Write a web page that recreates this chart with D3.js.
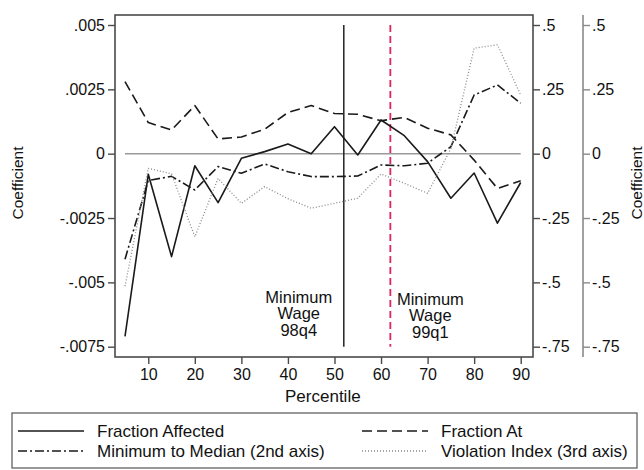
<!DOCTYPE html>
<html>
<head>
<meta charset="utf-8">
<script src="https://cdn.jsdelivr.net/npm/d3@7"></script>
<style>
  html, body { margin: 0; padding: 0; background: #fff; }
  svg { display: block; font-family: "Liberation Sans", Arial, sans-serif; }
</style>
</head>
<body>
<svg id="chart" width="644" height="470"></svg>
<script>
// Wage-distribution coefficients by percentile
const percentiles = [5, 10, 15, 20, 25, 30, 35, 40, 45, 50, 55, 60, 65, 70, 75, 80, 85, 90];
const fractionAffected = [-0.0071, -0.0008, -0.0040, -0.00047, -0.0019, -0.00018, 0.00008, 0.00038, 0.0,
  0.00105, -0.00005, 0.00131, 0.0007, -0.00031, -0.00173, -0.00075, -0.0027, -0.00112];
const fractionAt = [0.0028, 0.00121, 0.00092, 0.00187, 0.00057, 0.00065, 0.00095, 0.0016, 0.00187,
  0.00156, 0.00153, 0.00128, 0.00141, 0.00099, 0.00073, -0.00025, -0.00135, -0.00105];
// second axis
const minToMedian = [-0.41, -0.104, -0.088, -0.141, -0.05, -0.076, -0.04, -0.07, -0.089,
  -0.089, -0.087, -0.044, -0.047, -0.037, 0.027, 0.228, 0.267, 0.196];
// third axis
const violationIndex = [-0.515, -0.057, -0.078, -0.323, -0.096, -0.193, -0.128, -0.175, -0.212,
  -0.193, -0.173, -0.079, -0.115, -0.154, 0.02, 0.41, 0.423, 0.228];

const xTicks = [10, 20, 30, 40, 50, 60, 70, 80, 90];
const yTicks = [-0.0075, -0.005, -0.0025, 0, 0.0025, 0.005];
const y2Ticks = [-0.75, -0.5, -0.25, 0, 0.25, 0.5];
const events = [
  { at: 52, lines: ["Minimum", "Wage", "98q4"] },
  { at: 62, lines: ["Minimum", "Wage", "99q1"] }
];
const legendItems = ["Fraction Affected", "Fraction At", "Minimum to Median (2nd axis)", "Violation Index (3rd axis)"];

const svg = d3.select("#chart");
const box = { left: 115, right: 533, top: 15, bottom: 357 };
const axis3X = 583;

const x = d3.scaleLinear().domain([5, 90]).range([125, 520.7]);
const y = d3.scaleLinear().domain([-0.0075, 0.005]).range([346.7, 25]);
const y2 = d3.scaleLinear().domain([-0.75, 0.5]).range([346.7, 25]);
const y3 = d3.scaleLinear().domain([-0.75, 0.5]).range([346.7, 25]);

// Stata-style numbers: drop the leading zero
const fmt = v => v === 0 ? "0" : String(v).replace("0.", ".");

const fontTick = "16px";

// plot region outline
svg.append("rect")
  .attr("x", box.left).attr("y", box.top)
  .attr("width", box.right - box.left).attr("height", box.bottom - box.top)
  .attr("fill", "none").attr("stroke", "#4a4a4a").attr("stroke-width", 1.6);

// left axis
const gL = svg.append("g").attr("transform", `translate(${box.left},0)`)
  .call(d3.axisLeft(y).tickValues(yTicks).tickFormat(fmt).tickSize(7).tickPadding(3));
// second axis on the box's right edge
const gR2 = svg.append("g").attr("transform", `translate(${box.right},0)`)
  .call(d3.axisRight(y2).tickValues(y2Ticks).tickFormat(fmt).tickSize(7).tickPadding(2));
// third axis
const gR3 = svg.append("g").attr("transform", `translate(${axis3X},0)`)
  .call(d3.axisRight(y3).tickValues(y2Ticks).tickFormat(fmt).tickSize(7).tickPadding(2));
// bottom axis
const gB = svg.append("g").attr("transform", `translate(0,${box.bottom})`)
  .call(d3.axisBottom(x).tickValues(xTicks).tickFormat(d3.format("d")).tickSize(7).tickPadding(5));

[gL, gR2, gB].forEach(g => {
  g.select(".domain").remove();
  g.selectAll(".tick line").attr("stroke", "#4a4a4a").attr("stroke-width", 1.4);
  g.selectAll(".tick text").attr("fill", "#111").style("font-size", fontTick).style("font-family", "Liberation Sans, Arial, sans-serif");
});
gR3.select(".domain").remove();
gR3.selectAll(".tick line").attr("stroke", "#8a8a8a").attr("stroke-width", 1.4);
gR3.selectAll(".tick text").attr("fill", "#111").style("font-size", fontTick).style("font-family", "Liberation Sans, Arial, sans-serif");
svg.append("line")
  .attr("x1", axis3X).attr("x2", axis3X).attr("y1", box.top).attr("y2", box.bottom)
  .attr("stroke", "#8a8a8a").attr("stroke-width", 1.6);

// axis titles
svg.append("text")
  .attr("transform", `translate(23,183) rotate(-90)`)
  .attr("text-anchor", "middle").style("font-size", "15.5px").attr("fill", "#111")
  .text("Coefficient");
svg.append("text")
  .attr("transform", `translate(642,183) rotate(-90)`)
  .attr("text-anchor", "middle").style("font-size", "15.5px").attr("fill", "#111")
  .text("Coefficient");
svg.append("text")
  .attr("x", (x(5) + x(90)) / 2).attr("y", 402)
  .attr("text-anchor", "middle").style("font-size", "17px").attr("fill", "#111")
  .text("Percentile");

// zero reference line
svg.append("line")
  .attr("x1", x(5)).attr("x2", x(90)).attr("y1", y(0)).attr("y2", y(0))
  .attr("stroke", "#9a9a9a").attr("stroke-width", 1.6);

// event markers
svg.append("line")
  .attr("x1", x(events[0].at)).attr("x2", x(events[0].at))
  .attr("y1", y(0.005)).attr("y2", y(-0.0075))
  .attr("stroke", "#222").attr("stroke-width", 1.5);
svg.append("line")
  .attr("x1", x(events[1].at)).attr("x2", x(events[1].at))
  .attr("y1", y(0.005)).attr("y2", y(-0.0075))
  .attr("stroke", "#e0245e").attr("stroke-width", 1.8).attr("stroke-dasharray", "7,4");

const labelCx = [x(events[0].at) - 45, x(events[1].at) + 40];
const labelTop = [296.5, 298.5];
events.forEach((ev, i) => {
  const t = svg.append("text").attr("text-anchor", "middle")
    .style("font-size", "16.5px").attr("fill", "#111");
  ev.lines.forEach((s, k) => {
    t.append("tspan").attr("x", labelCx[i]).attr("y", labelTop[i] + 6 + k * 16.7).text(s);
  });
});

// series
const line = (scale, vals) => d3.line()
  .x((d, i) => x(percentiles[i]))
  .y(d => scale(d))(vals);

const styles = [
  { vals: fractionAffected, scale: y, stroke: "#1a1a1a", width: 1.6, dash: null },
  { vals: fractionAt, scale: y, stroke: "#1a1a1a", width: 1.6, dash: "10,5" },
  { vals: minToMedian, scale: y2, stroke: "#1a1a1a", width: 1.6, dash: "9,3,2,3" },
  { vals: violationIndex, scale: y3, stroke: "#8a8a8a", width: 1.3, dash: "1,2" }
];
styles.forEach(s => {
  svg.append("path")
    .attr("d", line(s.scale, s.vals))
    .attr("fill", "none").attr("stroke", s.stroke).attr("stroke-width", s.width)
    .attr("stroke-dasharray", s.dash).attr("stroke-linejoin", "round");
});

// legend
svg.append("rect")
  .attr("x", 12).attr("y", 413).attr("width", 625).attr("height", 55)
  .attr("fill", "none").attr("stroke", "#555").attr("stroke-width", 1.2);
const legPos = [
  { sx: 18, tx: 97, y: 431 },
  { sx: 362, tx: 441, y: 431 },
  { sx: 18, tx: 97, y: 451 },
  { sx: 362, tx: 441, y: 451 }
];
legendItems.forEach((name, i) => {
  const p = legPos[i], s = styles[i];
  svg.append("line")
    .attr("x1", p.sx).attr("x2", p.sx + 66).attr("y1", p.y).attr("y2", p.y)
    .attr("stroke", s.stroke).attr("stroke-width", s.width).attr("stroke-dasharray", s.dash);
  svg.append("text")
    .attr("x", p.tx).attr("y", p.y + 6)
    .style("font-size", "17px").attr("fill", "#111").text(name);
});
</script>
</body>
</html>
